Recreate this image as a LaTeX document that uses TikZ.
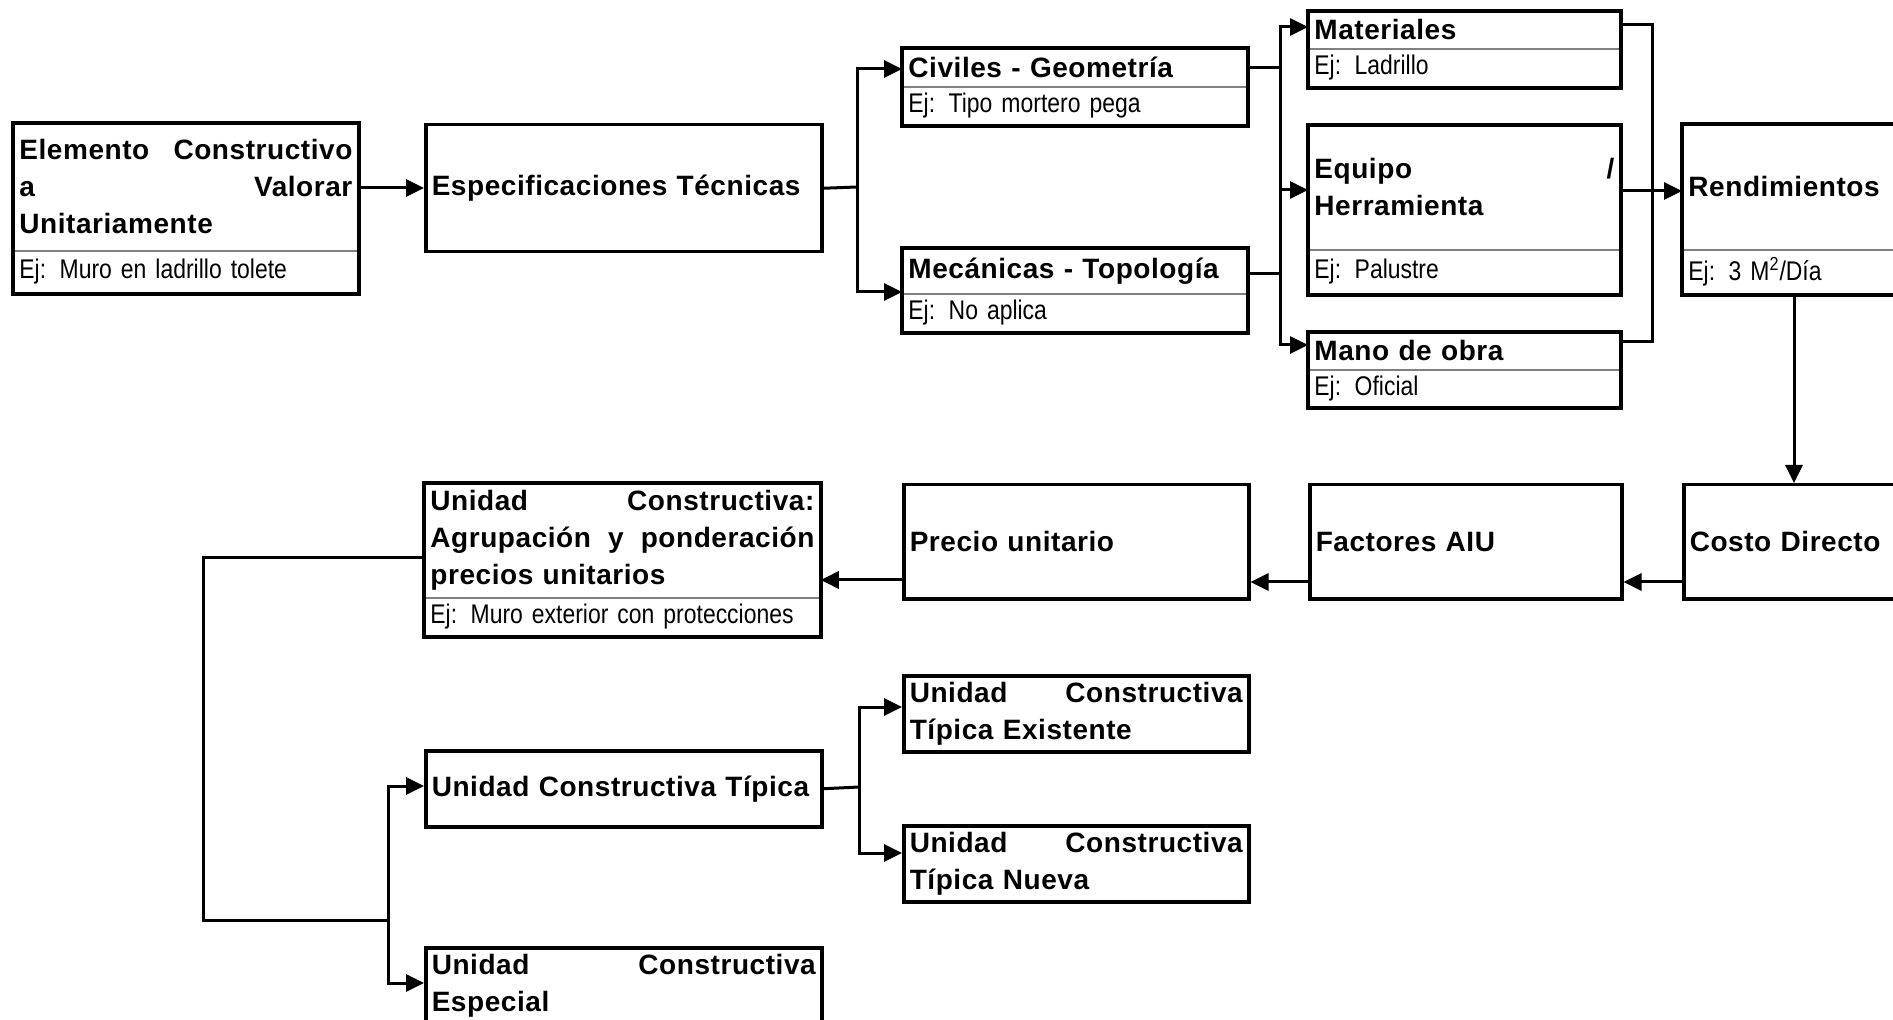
\documentclass[tikz,border=0pt]{standalone}
\usepackage{fontspec}
\setmainfont{Liberation Sans}
\newfontfamily\hdfont[LetterSpace=2]{Liberation Sans}
\newfontfamily\ejfont[FakeStretch=0.85]{Liberation Sans}
\usetikzlibrary{arrows.meta}
\newcommand\gap{\hskip 0pt plus 1filll\relax}

\begin{document}
\begin{tikzpicture}[x=0.5pt,y=-0.5pt,line join=miter,
		hd/.style={anchor=north west,inner xsep=3pt,inner ysep=0pt,align=left,
			font=\hdfont\bfseries\fontsize{14pt}{18.5pt}\selectfont},
		ej/.style={anchor=north west,inner xsep=3pt,inner ysep=0pt,align=left,
			font=\ejfont\fontsize{13.5pt}{16pt}\selectfont},
		wh/.style 2 args={minimum width=#1*0.5pt,minimum height=#2*0.5pt,text width=#1*0.5pt-6pt},
		box/.style={draw,line width=1.75pt},
		sep/.style={gray,line width=1pt},
		link/.style={line width=1.5pt},
		arr/.style={link,-{Triangle[length=9pt,width=8.5pt]}}]
		\useasboundingbox (0,0) rectangle (1893,1020);
		\clip (0,0) rectangle (1893,1020);
		% first row
		\node[hd,wh={345}{127}] (elem) at (13,123) {Elemento\gap Constructivo\\a\gap Valorar\\Unitariamente};
		\node[ej,wh={345}{43}] (elemej) at (13,250) {Ej: Muro en ladrillo tolete};
		\node[hd,box,wh={396}{127}] (espec) at (424,123) {Especificaciones Técnicas};
		\node[hd,wh={345}{38}] (civ) at (902,48) {Civiles - Geometría};
		\node[ej,wh={345}{39}] (civej) at (902,86) {Ej: Tipo mortero pega};
		\node[hd,wh={345}{45}] (mec) at (902,248) {Mecánicas - Topología};
		\node[ej,wh={345}{39}] (mecej) at (902,293) {Ej: No aplica};
		\node[hd,wh={312}{37}] (mat) at (1308,11) {Materiales};
		\node[ej,wh={312}{39}] (matej) at (1308,48) {Ej: Ladrillo};
		\node[hd,wh={312}{124}] (equ) at (1308,125) {Equipo\gap /\\Herramienta};
		\node[ej,wh={312}{45}] (equej) at (1308,249) {Ej: Palustre};
		\node[hd,wh={312}{37}] (mano) at (1308,332) {Mano de obra};
		\node[ej,wh={312}{38}] (manoej) at (1308,369) {Ej: Oficial};
		\node[hd,wh={345}{125}] (rend) at (1682,124) {Rendimientos};
		\node[ej,wh={345}{45}] (rendej) at (1682,249) {Ej: 3 M\textsuperscript{2}/Día};
		% second row
		\node[hd,box,wh={345}{114}] (costo) at (1682,483) {Costo Directo};
		\node[hd,box,wh={312}{114}] (fac) at (1308,483) {Factores AIU};
		\node[hd,box,wh={345}{114}] (precio) at (902,483) {Precio unitario};
		\node[hd,wh={396}{114}] (unid) at (424,483) {Unidad\gap Constructiva:\\Agrupación\gap y\gap ponderación\\precios unitarios};
		\node[ej,wh={396}{39}] (unidej) at (424,597) {Ej: Muro exterior con protecciones};
		% third row
		\node[hd,box,wh={396}{76}] (tip) at (424,749) {Unidad Constructiva Típica};
		\node[hd,box,wh={345}{76}] (exi) at (902,674) {Unidad\gap Constructiva\\Típica Existente};
		\node[hd,box,wh={345}{76}] (nue) at (902,824) {Unidad\gap Constructiva\\Típica Nueva};
		\node[hd,box,wh={396}{76}] (esp) at (424,946) {Unidad\gap Constructiva\\Especial};
		% frames with example part
		\foreach \a/\b in {elem/elemej,civ/civej,mec/mecej,mat/matej,equ/equej,mano/manoej,rend/rendej,unid/unidej}{
			\draw[sep] (\a.south west) -- (\a.south east);
			\draw[box] (\a.north west) rectangle (\b.south east);
		}
		\coordinate (j1) at (857,187);
		\coordinate (j2) at (1280,190);
		\coordinate (j3) at (1652,191);
		\coordinate (c1) at (203,920);
		\coordinate (j4) at (388,920);
		\coordinate (j5) at (859,787);
		\draw[arr] (elem.east |- 0,188) -- (espec.west |- 0,188);
		\draw[link] (espec.east) -- (j1);
		\draw[arr] (j1) |- (civ.west |- 0,69);
		\draw[arr] (j1) |- (mec.west |- 0,292);
		\draw[link] (civ.east) -- (civ.east -| j2);
		\draw[link] (mec.east |- 0,274) -- (j2 |- 0,274);
		\draw[arr] (j2) |- (mat.west |- 0,27);
		\draw[arr] (j2) -- (equ.west |- j2);
		\draw[arr] (j2) |- (mano.west |- 0,345);
		\draw[link] (mat.east |- 0,25) -| (j3) |- (mano.east |- 0,342);
		\draw[arr] (equ.east |- j3) -- (rend.west |- j3);
		\draw[arr] (rendej.south -| 1794,0) -- (costo.north -| 1794,0);
		\draw[arr] (costo.west |- 0,582) -- (fac.east |- 0,582);
		\draw[arr] (fac.west |- 0,582) -- (precio.east |- 0,582);
		\draw[arr] (precio.west |- 0,580) -- (unid.east |- 0,580);
		\draw[link] (unid.west |- 0,558) -| (c1) -- (j4);
		\draw[arr] (j4) |- (tip.west |- 0,786);
		\draw[arr] (j4) |- (esp.west |- 0,983);
		\draw[link] (tip.east) -- (j5);
		\draw[arr] (j5) |- (exi.west |- 0,707);
		\draw[arr] (j5) |- (nue.west |- 0,853);
	\end{tikzpicture}
\end{document}
